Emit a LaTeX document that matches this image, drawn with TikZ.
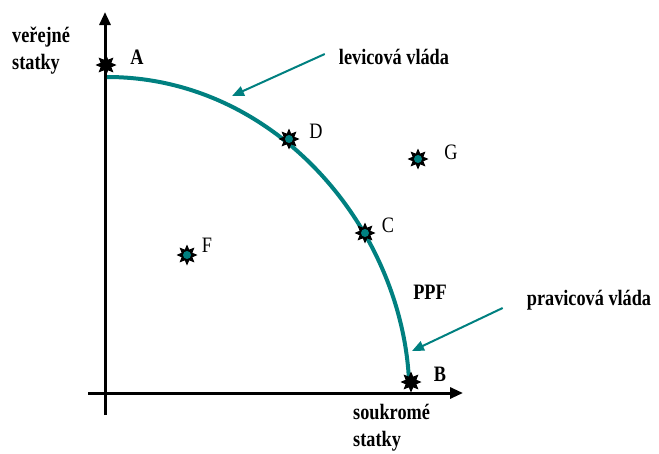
\documentclass[tikz,border=0pt]{standalone}
\usepackage{fontspec}
\setmainfont{Liberation Serif}
\newfontfamily\narrowserif[FakeStretch=0.83]{Liberation Serif}
\usetikzlibrary{positioning,arrows.meta,shapes.geometric}
\definecolor{ppfteal}{RGB}{0,128,128}
\tikzset{
  axis/.style     = {line width=3pt, -{Triangle[length=13pt,width=11pt]}},
  frontier/.style = {draw=ppfteal, line width=4pt},
  pointer/.style  = {draw=ppfteal, line width=2pt,
                     -{Triangle[length=12pt,width=10pt]}},
  starpt/.style   = {star, star points=8, star point ratio=1.8,
                     minimum size=21pt, inner sep=0pt, fill=black},
  corept/.style   = {starpt, path picture={
                     \fill[ppfteal] (path picture bounding box.center) circle (4pt);}},
  lbl/.style      = {font=\narrowserif\fontsize{22}{27}\selectfont, inner sep=0pt},
  blbl/.style     = {inner sep=0pt, align=left,
                     font=\narrowserif\bfseries\fontsize{22}{27}\selectfont}
}
\begin{document}
\begin{tikzpicture}[x=1pt,y=-1pt]
  \useasboundingbox (0,0) rectangle (659,453);

  % Axes.
  \coordinate (ybot)   at (105,415);
  \coordinate (ytop)   at (105,12);
  \coordinate (xleft)  at (88,393);
  \coordinate (xright) at (463,393);
  \draw[axis] (ybot) -- (ytop);
  \draw[axis] (xleft) -- (xright);

  % Production possibility frontier.
  \coordinate (top) at (107,77);
  \coordinate (bot) at (409,381);
  \draw[frontier] (top) .. controls (277,77) and (402,230) .. (bot);

  % Points.
  \node[starpt] (A) at (106,65)  {};
  \node[starpt] (B) at (411,382) {};
  \node[corept] (D) at (289,139) {};
  \node[corept] (C) at (365,233) {};
  \node[corept] (G) at (418,159) {};
  \node[corept] (F) at (187,255) {};

  \node[blbl] (Alab) at (137,57)  {A};
  \node[blbl] (Blab) at (440,374) {B};
  \node[lbl]  (Dlab) at (316,131) {D};
  \node[lbl]  (Clab) at (388,225) {C};
  \node[lbl]  (Glab) at (451,152) {G};
  \node[lbl]  (Flab) at (207,245) {F};
  \node[blbl] (ppf)  at (430,292) {PPF};

  % Axis titles.
  \node[blbl, anchor=west] (ytitle) at (12,51)  {veřejné\\statky};
  \node[blbl, anchor=west] (xtitle) at (353,428) {soukromé\\statky};

  % Government labels with pointers to the frontier.
  \node[blbl] (lev)  at (394,57)  {levicová vláda};
  \node[blbl] (prav) at (589,300) {pravicová vláda};
  \coordinate (levtip)  at (232,96);
  \coordinate (pravtip) at (412,351);
  \draw[pointer] ([xshift=-14pt,yshift=3pt]lev.west) -- (levtip);
  \draw[pointer] ([xshift=-24pt,yshift=-8pt]prav.west) -- (pravtip);

\end{tikzpicture}
\end{document}
